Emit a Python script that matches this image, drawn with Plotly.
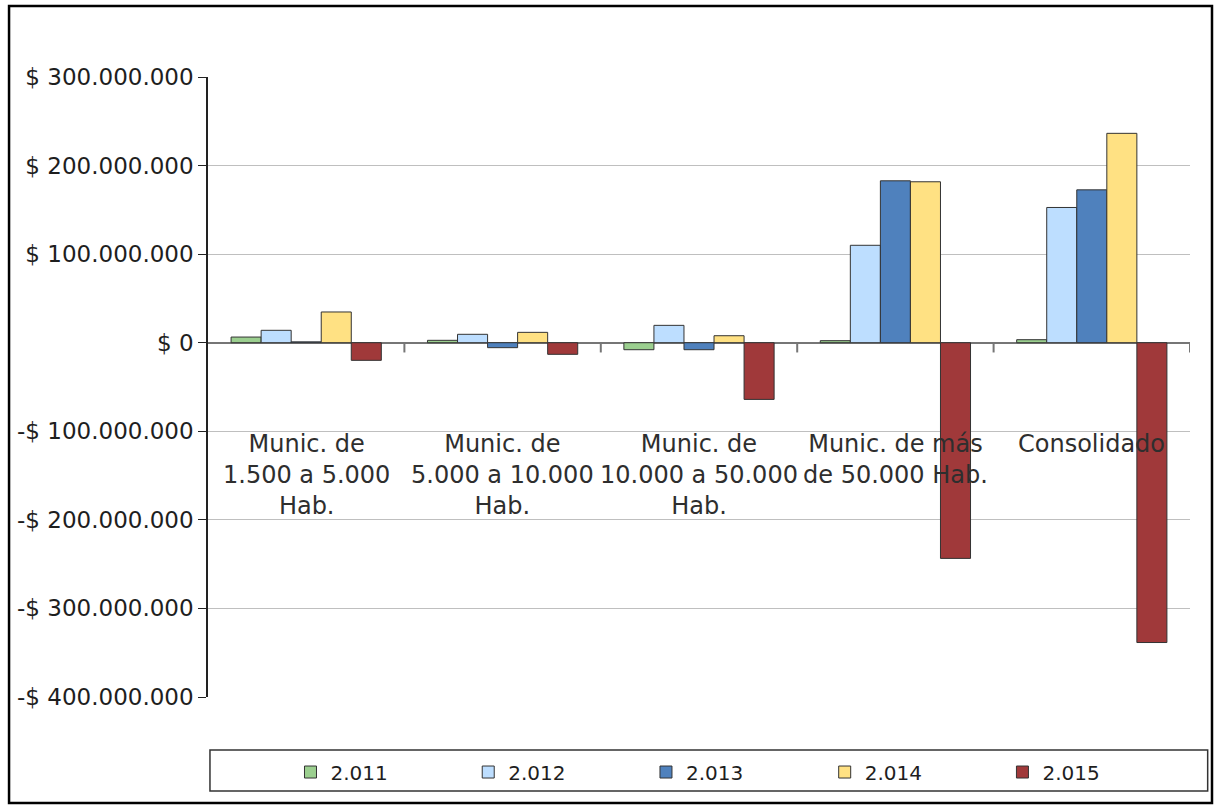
import plotly.graph_objects as go

categories = ["Munic. de<br>1.500 a 5.000<br>Hab.",
              "Munic. de<br>5.000 a 10.000<br>Hab.",
              "Munic. de<br>10.000 a 50.000<br>Hab.",
              "Munic. de más<br>de 50.000 Hab.",
              "Consolidado"]
cat_keys = ["c1", "c2", "c3", "c4", "c5"]

years = ["2.011", "2.012", "2.013", "2.014", "2.015"]
v2011 = [6.4e6, 2.7e6, -7.9e6, 2.3e6, 3.4e6]
v2012 = [14.0e6, 9.5e6, 19.6e6, 110.0e6, 152.7e6]
v2013 = [1.0e6, -5.6e6, -7.9e6, 182.8e6, 172.6e6]
v2014 = [34.7e6, 11.7e6, 7.9e6, 181.7e6, 236.4e6]
v2015 = [-19.9e6, -13.1e6, -64.0e6, -243.5e6, -338.5e6]
series = [v2011, v2012, v2013, v2014, v2015]
colors = ["#9BCF8F", "#BDDEFF", "#4F81BD", "#FFE183", "#A0393A"]

tick_vals = [300e6, 200e6, 100e6, 0, -100e6, -200e6, -300e6, -400e6]
tick_text = ["$ 300.000.000", "$ 200.000.000", "$ 100.000.000", "$ 0",
             "-$ 100.000.000", "-$ 200.000.000", "-$ 300.000.000", "-$ 400.000.000"]

FONT = "DejaVu Sans"
legend_ids = ["legend", "legend2", "legend3", "legend4", "legend5"]
legend_x = [0.084, 0.265, 0.446, 0.628, 0.809]

fig = go.Figure()
for name, vals, col, lid in zip(years, series, colors, legend_ids):
    fig.add_trace(go.Bar(x=cat_keys, y=vals, name=name, marker_color=col,
                         marker_line=dict(color="#333333", width=1), legend=lid))

legend_common = dict(orientation="h", xanchor="left", y=-0.121, yanchor="middle",
                     font=dict(size=20, family=FONT, color="#1E1E1E"),
                     bgcolor="rgba(0,0,0,0)", borderwidth=0, itemwidth=30)

layout_legends = {lid: dict(legend_common, x=lx) for lid, lx in zip(legend_ids, legend_x)}

fig.update_layout(
    width=1216, height=805,
    margin=dict(l=208, r=26, t=77, b=108),
    paper_bgcolor="white", plot_bgcolor="white",
    barmode="group", bargap=0.235, bargroupgap=0,
    font=dict(family=FONT, color="#1E1E1E"),
    showlegend=True,
    **layout_legends,
)
fig.update_xaxes(showticklabels=False, showgrid=False, zeroline=False,
                 showline=False, range=[-0.5, 4.5])
fig.update_yaxes(range=[-400e6, 300e6], tickvals=tick_vals, ticktext=tick_text,
                 tickfont=dict(size=23, family=FONT, color="#1E1E1E"),
                 showgrid=True, gridcolor="#BFBFBF", gridwidth=1,
                 zeroline=True, zerolinecolor="#767676", zerolinewidth=2,
                 showline=True, linecolor="#222222", linewidth=1.5,
                 ticks="outside", ticklen=8, tickcolor="#222222")

# category labels
for key, lab in zip(cat_keys, categories):
    fig.add_annotation(x=key, y=-96e6, text=lab, showarrow=False, yanchor="top",
                       xanchor="center", align="center",
                       font=dict(size=24, family=FONT, color="#2E2E2E"))

# category boundary ticks on the zero axis
for i in range(len(cat_keys)):
    fig.add_shape(type="line", xref="x", yref="y", x0=i + 0.5, x1=i + 0.5,
                  y0=0, y1=-11e6, line=dict(color="#767676", width=2))

# legend box
fig.add_shape(type="rect", xref="paper", yref="paper", x0=0.002, x1=1.018,
              y0=-0.0855, y1=-0.1516, line=dict(color="#333333", width=1.5))
# outer chart border
fig.add_shape(type="rect", xref="paper", yref="paper", x0=-0.2026, x1=1.0224,
              y0=1.1145, y1=-0.171, line=dict(color="black", width=2.5))

fig.write_html("out.html", config={"displayModeBar": False},
               post_script="document.body.style.margin='0';document.body.style.overflow='hidden';")
